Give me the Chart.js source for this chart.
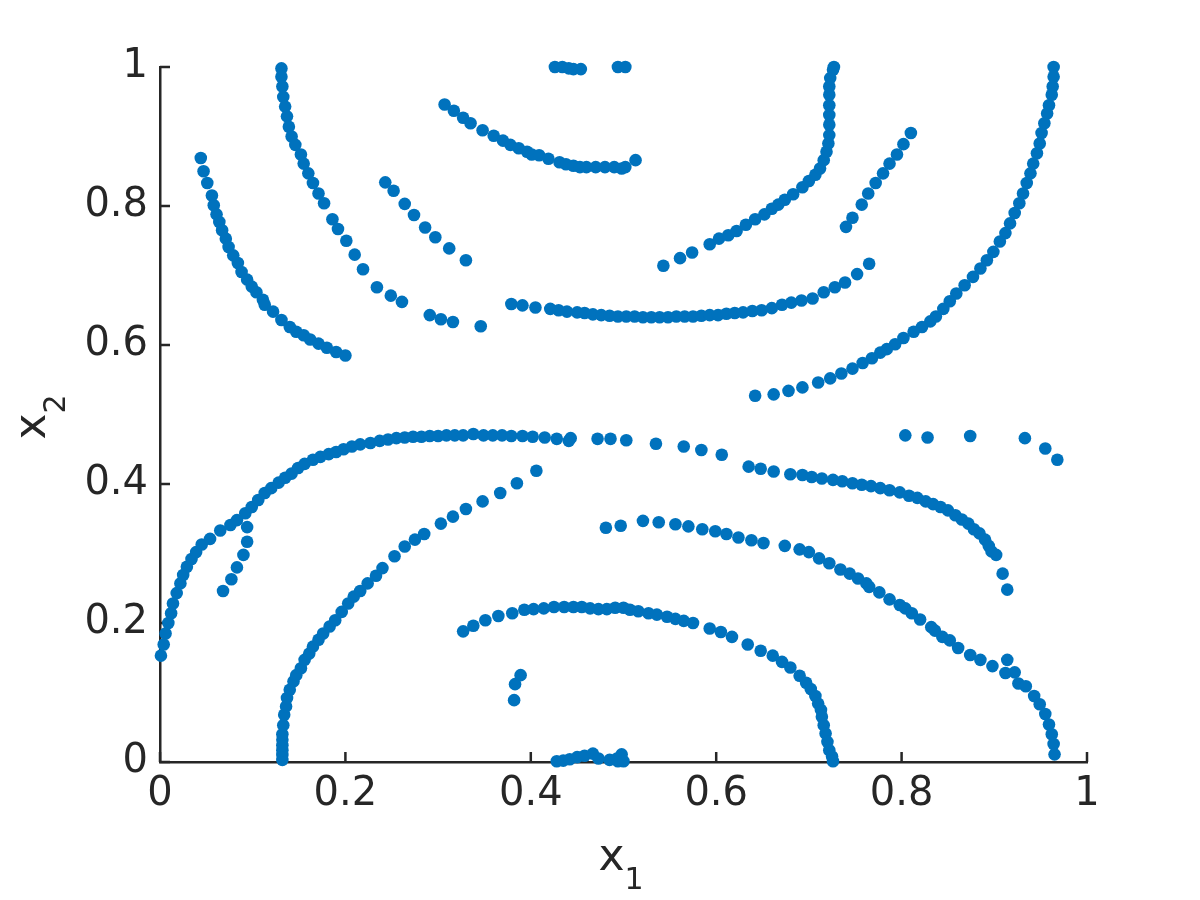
<!DOCTYPE html>
<html>
<head>
<meta charset="utf-8">
<script src="https://cdn.jsdelivr.net/npm/chart.js@4.4.0/dist/chart.umd.min.js"></script>
<style>
  html, body { margin: 0; padding: 0; background: #fff; }
  #wrap { width: 1200px; height: 900px; position: relative; }
</style>
</head>
<body>
<div id="wrap"><canvas id="myChart"></canvas></div>
<script>
// point branches, [x1, x2]
const upperLeftArc = [[0.044,0.869],[0.047,0.850],[0.051,0.833],[0.056,0.815],[0.058,0.801],[0.061,0.788],[0.064,0.777],[0.067,0.765],[0.071,0.753],[0.074,0.741],[0.079,0.729],[0.084,0.718],[0.088,0.705],[0.094,0.694],[0.099,0.684],[0.104,0.676],[0.111,0.665],[0.113,0.658],[0.122,0.648],[0.131,0.636],[0.140,0.626],[0.147,0.619],[0.155,0.614],[0.162,0.608],[0.171,0.602],[0.180,0.596],[0.190,0.590],[0.200,0.585]];
const secondArc = [[0.131,0.998],[0.131,0.986],[0.132,0.972],[0.133,0.957],[0.135,0.943],[0.137,0.929],[0.139,0.914],[0.142,0.900],[0.146,0.888],[0.152,0.874],[0.155,0.861],[0.160,0.847],[0.165,0.833],[0.171,0.818],[0.177,0.804],[0.186,0.781],[0.192,0.767],[0.201,0.750],[0.210,0.730],[0.219,0.709],[0.234,0.683],[0.249,0.671],[0.261,0.662],[0.291,0.643],[0.303,0.637],[0.316,0.633],[0.346,0.627]];
const shortDiagonal = [[0.243,0.834],[0.252,0.822],[0.264,0.803],[0.274,0.787],[0.286,0.769],[0.297,0.755],[0.312,0.739],[0.330,0.722]];
const topBowl = [[0.307,0.946],[0.317,0.937],[0.327,0.927],[0.335,0.919],[0.348,0.909],[0.360,0.901],[0.370,0.894],[0.378,0.888],[0.387,0.883],[0.396,0.878],[0.401,0.874],[0.409,0.873],[0.419,0.868],[0.431,0.863],[0.438,0.860],[0.446,0.858],[0.453,0.856],[0.460,0.856],[0.470,0.856],[0.480,0.856],[0.490,0.856],[0.498,0.854],[0.502,0.856],[0.513,0.866]];
const topEdge = [[0.426,1.0],[0.434,1.0],[0.441,0.998],[0.446,0.997],[0.454,0.997],[0.494,1.0],[0.502,1.0]];
const rightHook = [[0.543,0.714],[0.561,0.725],[0.574,0.733],[0.593,0.745],[0.603,0.753],[0.613,0.758],[0.622,0.764],[0.632,0.773],[0.642,0.781],[0.652,0.788],[0.660,0.796],[0.667,0.802],[0.674,0.809],[0.683,0.817],[0.693,0.827],[0.700,0.836],[0.707,0.845],[0.712,0.854],[0.716,0.866],[0.719,0.878],[0.721,0.890],[0.722,0.902],[0.722,0.917],[0.722,0.931],[0.722,0.945],[0.722,0.960],[0.722,0.972],[0.723,0.984],[0.726,0.996],[0.727,1.0]];
const rightDiagonal = [[0.740,0.770],[0.747,0.783],[0.757,0.802],[0.764,0.818],[0.772,0.833],[0.780,0.847],[0.787,0.861],[0.795,0.874],[0.802,0.889],[0.810,0.905]];
const farRightArc = [[0.964,1.0],[0.964,0.986],[0.963,0.972],[0.962,0.960],[0.959,0.945],[0.957,0.933],[0.954,0.919],[0.951,0.905],[0.949,0.890],[0.946,0.876],[0.942,0.861],[0.939,0.847],[0.935,0.833],[0.931,0.818],[0.927,0.804],[0.922,0.790],[0.917,0.775],[0.912,0.761],[0.906,0.749],[0.899,0.734],[0.892,0.722],[0.885,0.710],[0.877,0.698],[0.868,0.686],[0.859,0.674],[0.852,0.663],[0.845,0.652],[0.837,0.641],[0.831,0.634],[0.822,0.626],[0.813,0.619],[0.802,0.610],[0.793,0.601],[0.784,0.594],[0.777,0.589],[0.768,0.581],[0.758,0.574],[0.747,0.566],[0.735,0.559],[0.723,0.552],[0.710,0.546],[0.693,0.539],[0.678,0.534],[0.662,0.529],[0.642,0.527]];
const middleBowl = [[0.379,0.659],[0.391,0.657],[0.405,0.654],[0.421,0.652],[0.430,0.650],[0.439,0.648],[0.450,0.647],[0.458,0.646],[0.467,0.644],[0.476,0.643],[0.485,0.642],[0.494,0.641],[0.503,0.641],[0.512,0.641],[0.521,0.640],[0.530,0.640],[0.539,0.640],[0.548,0.640],[0.557,0.641],[0.566,0.641],[0.575,0.641],[0.584,0.642],[0.593,0.643],[0.602,0.643],[0.611,0.645],[0.620,0.646],[0.629,0.647],[0.639,0.649],[0.649,0.650],[0.660,0.653],[0.671,0.658],[0.681,0.661],[0.692,0.664],[0.704,0.667],[0.716,0.676],[0.728,0.683],[0.739,0.690],[0.752,0.702],[0.765,0.717]];
const lowerLeftBranch = [[0.001,0.153],[0.004,0.169],[0.006,0.185],[0.009,0.200],[0.012,0.214],[0.014,0.228],[0.018,0.243],[0.022,0.257],[0.025,0.269],[0.029,0.281],[0.034,0.292],[0.039,0.302],[0.045,0.313],[0.054,0.321],[0.065,0.333],[0.076,0.341],[0.083,0.348],[0.092,0.358],[0.099,0.367],[0.106,0.377],[0.113,0.387],[0.120,0.394],[0.128,0.402],[0.135,0.409],[0.142,0.415],[0.149,0.423],[0.156,0.429],[0.165,0.435],[0.173,0.439],[0.182,0.443],[0.190,0.446],[0.198,0.450],[0.207,0.454],[0.216,0.457],[0.227,0.459],[0.237,0.462],[0.246,0.464],[0.255,0.466],[0.264,0.467],[0.273,0.468],[0.282,0.468],[0.291,0.469],[0.300,0.469],[0.309,0.470],[0.318,0.470],[0.327,0.470],[0.338,0.472],[0.349,0.470],[0.359,0.470],[0.369,0.470],[0.379,0.469],[0.391,0.469],[0.402,0.468],[0.415,0.467],[0.428,0.465],[0.441,0.462],[0.443,0.466]];
const lowerRightBranch = [[0.472,0.465],[0.486,0.465],[0.503,0.463],[0.535,0.458],[0.565,0.454],[0.584,0.449],[0.606,0.442],[0.635,0.425],[0.648,0.422],[0.662,0.418],[0.680,0.414],[0.693,0.413],[0.703,0.410],[0.714,0.408],[0.726,0.406],[0.736,0.404],[0.747,0.401],[0.757,0.399],[0.767,0.397],[0.777,0.394],[0.787,0.391],[0.798,0.388],[0.808,0.383],[0.817,0.380],[0.826,0.375],[0.834,0.371],[0.842,0.367],[0.850,0.362],[0.858,0.355],[0.865,0.349],[0.872,0.343],[0.878,0.335],[0.884,0.329],[0.890,0.320],[0.894,0.311],[0.897,0.303],[0.902,0.298],[0.909,0.271],[0.914,0.248]];
const rightStrays = [[0.804,0.470],[0.828,0.467],[0.874,0.469],[0.933,0.466],[0.955,0.451],[0.968,0.435]];
const leftSpur = [[0.068,0.246],[0.077,0.263],[0.083,0.280],[0.090,0.298],[0.094,0.317],[0.094,0.338]];
const bottomLeftArc = [[0.132,0.003],[0.132,0.010],[0.132,0.017],[0.132,0.024],[0.132,0.032],[0.132,0.040],[0.133,0.053],[0.134,0.068],[0.136,0.080],[0.137,0.092],[0.140,0.104],[0.144,0.116],[0.147,0.125],[0.152,0.135],[0.156,0.147],[0.161,0.156],[0.165,0.166],[0.171,0.176],[0.176,0.185],[0.183,0.195],[0.189,0.204],[0.196,0.216],[0.203,0.228],[0.209,0.238],[0.216,0.246],[0.224,0.257],[0.233,0.268],[0.240,0.279],[0.253,0.296],[0.264,0.310],[0.275,0.320],[0.285,0.328],[0.303,0.343],[0.316,0.353],[0.330,0.364],[0.348,0.375],[0.367,0.387],[0.385,0.401],[0.406,0.419]];
const midLowerArc = [[0.481,0.337],[0.497,0.340],[0.521,0.347],[0.538,0.345],[0.556,0.342],[0.570,0.339],[0.585,0.335],[0.599,0.332],[0.611,0.328],[0.624,0.323],[0.638,0.319],[0.651,0.315],[0.674,0.311],[0.690,0.306],[0.700,0.302],[0.711,0.293],[0.722,0.286],[0.734,0.277],[0.744,0.271],[0.753,0.264],[0.762,0.257],[0.765,0.252],[0.776,0.244],[0.787,0.234],[0.798,0.226],[0.804,0.221],[0.811,0.214],[0.820,0.205],[0.832,0.194],[0.836,0.189],[0.844,0.180],[0.852,0.175],[0.861,0.164],[0.874,0.154],[0.885,0.147],[0.898,0.138],[0.912,0.128],[0.914,0.147],[0.922,0.129],[0.926,0.113],[0.934,0.109],[0.943,0.095],[0.949,0.083],[0.955,0.069],[0.959,0.054],[0.962,0.040],[0.964,0.026],[0.965,0.011]];
const bottomArc = [[0.327,0.188],[0.338,0.196],[0.351,0.204],[0.365,0.210],[0.380,0.214],[0.393,0.219],[0.403,0.220],[0.414,0.221],[0.425,0.223],[0.436,0.223],[0.446,0.223],[0.455,0.223],[0.464,0.221],[0.473,0.220],[0.482,0.220],[0.491,0.222],[0.500,0.222],[0.507,0.219],[0.516,0.217],[0.527,0.214],[0.536,0.212],[0.547,0.209],[0.556,0.206],[0.565,0.203],[0.575,0.200],[0.593,0.192],[0.605,0.187],[0.617,0.180],[0.634,0.169],[0.648,0.160],[0.661,0.153],[0.671,0.144],[0.680,0.136],[0.690,0.124],[0.697,0.114],[0.702,0.105],[0.707,0.095],[0.710,0.084],[0.713,0.075],[0.714,0.065],[0.716,0.053],[0.718,0.041],[0.720,0.029],[0.722,0.017],[0.725,0.008],[0.726,0.001]];
const smallCluster = [[0.382,0.089],[0.383,0.112],[0.389,0.125]];
const bottomEdge = [[0.428,0.001],[0.435,0.002],[0.442,0.004],[0.450,0.007],[0.458,0.009],[0.467,0.012],[0.473,0.005],[0.485,0.003],[0.493,0.005],[0.494,0.001],[0.498,0.011],[0.500,0.001]];

const tickValues = [0, 0.2, 0.4, 0.6, 0.8, 1];
const tickLabels = ['0', '0.2', '0.4', '0.6', '0.8', '1'];

const branches = [upperLeftArc, secondArc, shortDiagonal, topBowl, topEdge, rightHook, rightDiagonal,
    farRightArc, middleBowl, lowerLeftBranch, lowerRightBranch, rightStrays, leftSpur,
    bottomLeftArc, midLowerArc, bottomArc, smallCluster, bottomEdge];

const dotColor = '#0072BD';
const axisColor = '#262626';
const fontFamily = '"DejaVu Sans", sans-serif';

// MATLAB-style inward tick marks
const innerTicks = {
    id: 'innerTicks',
    beforeDatasetsDraw(chart) {
        const { ctx, chartArea, scales } = chart;
        ctx.save();
        ctx.strokeStyle = axisColor;
        ctx.lineWidth = 2.5;
        ctx.beginPath();
        tickValues.forEach(v => {
            const px = scales.x.getPixelForValue(v);
            ctx.moveTo(px, chartArea.bottom);
            ctx.lineTo(px, chartArea.bottom - 10);
            const py = scales.y.getPixelForValue(v);
            ctx.moveTo(chartArea.left, py);
            ctx.lineTo(chartArea.left + 10, py);
        });
        ctx.stroke();
        ctx.restore();
    }
};

// axis labels with subscripts
const axisTitles = {
    id: 'axisTitles',
    afterDraw(chart) {
        const { ctx, chartArea } = chart;
        const cx = (chartArea.left + chartArea.right) / 2;
        const cy = (chartArea.top + chartArea.bottom) / 2;
        ctx.save();
        ctx.fillStyle = axisColor;
        ctx.textBaseline = 'alphabetic';
        ctx.textAlign = 'left';
        ctx.font = '44px ' + fontFamily;
        ctx.fillText('x', cx - 25, 870);
        ctx.font = '30px ' + fontFamily;
        ctx.fillText('1', cx + 1, 889);

        ctx.translate(45, cy + 12);
        ctx.rotate(-Math.PI / 2);
        ctx.font = '44px ' + fontFamily;
        ctx.textAlign = 'center';
        ctx.fillText('x', 0, 0);
        ctx.font = '30px ' + fontFamily;
        ctx.textAlign = 'left';
        ctx.fillText('2', 13, 20);
        ctx.restore();
    }
};

(function() {
    const myChart = document.getElementById('myChart');

    new Chart(myChart, {
        type: 'scatter',
        plugins: [innerTicks, axisTitles],
        data: {
            datasets: [{
                data: branches.flat().map(p => ({ x: p[0], y: p[1] })),
                backgroundColor: dotColor,
                borderWidth: 0,
                pointRadius: 6.3,
                pointHoverRadius: 6.3,
                clip: false
            }]
        },
        options: {
            responsive: true,
            maintainAspectRatio: false,
            animation: false,
            events: [],
            devicePixelRatio: 1,
            layout: { padding: { left: 0, top: 67, right: 113, bottom: 0 } },
            plugins: { legend: { display: false }, tooltip: { enabled: false } },
            scales: {
                x: {
                    type: 'linear',
                    min: 0,
                    max: 1,
                    afterBuildTicks: s => { s.ticks = tickValues.map(v => ({ value: v })); },
                    afterFit: s => { s.height = 138; },
                    grid: { display: false, drawTicks: false },
                    border: { display: true, color: axisColor, width: 2.5 },
                    ticks: {
                        color: axisColor,
                        padding: 9,
                        maxRotation: 0,
                        font: { family: fontFamily, size: 40 },
                        callback: (v, i) => tickLabels[i]
                    }
                },
                y: {
                    type: 'linear',
                    min: 0,
                    max: 1,
                    afterBuildTicks: s => { s.ticks = tickValues.map(v => ({ value: v })); },
                    afterFit: s => { s.width = 160; },
                    grid: { display: false, drawTicks: false },
                    border: { display: true, color: axisColor, width: 2.5 },
                    ticks: {
                        color: axisColor,
                        padding: 12,
                        font: { family: fontFamily, size: 40 },
                        callback: (v, i) => tickLabels[i]
                    }
                }
            }
        }
    });
})();
</script>
</body>
</html>
